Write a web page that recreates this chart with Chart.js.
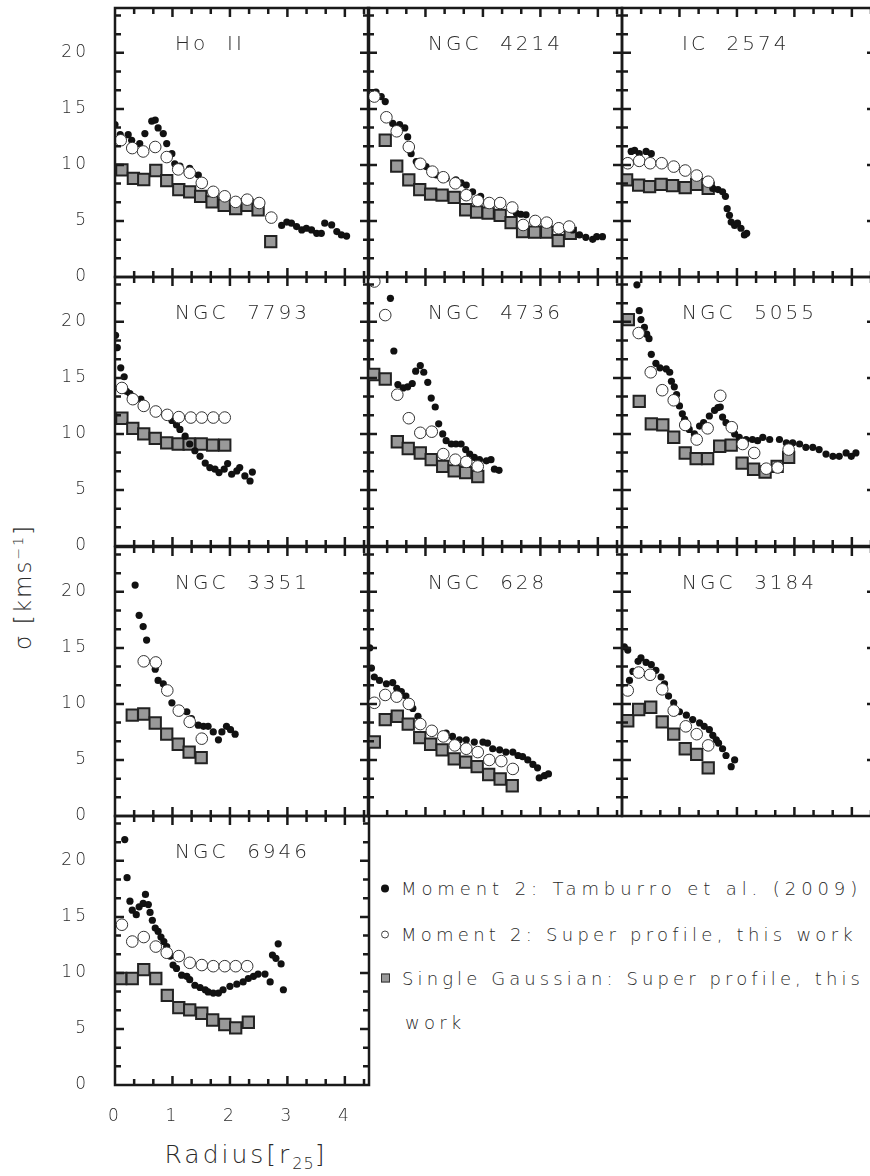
<!DOCTYPE html>
<html>
<head>
<meta charset="utf-8">
<script src="https://cdn.jsdelivr.net/npm/chart.js@4.4.1/dist/chart.umd.min.js"></script>
<style>
  html, body { margin: 0; padding: 0; background: #fff; }
  body { width: 870px; height: 1176px; overflow: hidden; position: relative;
         font-family: 'DejaVu Sans', sans-serif; font-weight: 200; color: #2a2a2a; }
  canvas.panel { position: absolute; }
  .txt { position: absolute; white-space: nowrap; }
  #ytitle { left: 23px; top: 587px; font-size: 23px; letter-spacing: 2px;
            transform: translate(-50%, -50%) rotate(-90deg); }
  #ytitle sup { font-size: 14px; }
  #xtitle { left: 246px; top: 1156px; font-size: 25px; letter-spacing: 3px;
            transform: translate(-50%, -50%); }
  #xtitle sub { font-size: 16px; letter-spacing: 1px; }
  .leg { position: absolute; left: 381px; font-size: 18px; letter-spacing: 4.9px;
         white-space: nowrap; transform: translateY(-50%); }
  .mk { display: inline-block; box-sizing: border-box; margin-right: 12px; vertical-align: 2px; letter-spacing: 0; }
  .mk.dot { width: 8px; height: 8px; border-radius: 50%; background: #111; }
  .mk.open { width: 8px; height: 8px; border-radius: 50%; border: 1px solid #444; background: #fff; }
  .mk.sq { width: 9px; height: 9px; border: 1px solid #333; background: #999; }
</style>
</head>
<body>
<div class="txt" id="ytitle">σ [kms<sup>−1</sup>]</div>
<div class="txt" id="xtitle">Radius[r<sub>25</sub>]</div>
<div class="leg" style="top:888px"><span class="mk dot"></span>Moment 2: Tamburro et al. (2009)</div>
<div class="leg" style="top:934px; letter-spacing:4.25px"><span class="mk open"></span>Moment 2: Super profile, this work</div>
<div class="leg" style="top:978px; letter-spacing:4.1px"><span class="mk sq"></span>Single Gaussian: Super profile, this</div>
<div class="leg" style="top:1022px; left:405px; letter-spacing:4.2px">work</div>
<script>
// tick labels
const xMajor = [0, 1, 2, 3, 4];
const yMajor = [0, 5, 10, 15, 20];
const X_MAX = 4.42;
const Y_MAX = 24;

// Ho II
const hoII_tamburro = [[0,13.6],[0.09,12.7],[0.23,12.7],[0.29,12.2],[0.43,11.9],[0.52,12.8],[0.64,13.9],[0.70,14.0],[0.75,13.3],[0.84,12.8],[0.90,11.9],[0.99,11.0],[1.04,10.1],[1.13,9.9],[1.30,9.7],[1.45,9.1],[2.90,4.6],[2.99,4.9],[3.07,4.8],[3.16,4.5],[3.25,4.2],[3.33,4.35],[3.42,4.2],[3.51,3.9],[3.59,3.9],[3.65,4.8],[3.77,4.65],[3.86,4.05],[3.94,3.75],[4.03,3.65]];
const hoII_moment2 = [[0.10,12.2],[0.30,11.5],[0.49,11.2],[0.70,11.6],[0.90,10.7],[1.10,9.6],[1.30,9.3],[1.51,8.4],[1.71,7.6],[1.91,7.2],[2.10,6.7],[2.30,6.9],[2.51,6.6],[2.72,5.3]];
const hoII_gauss = [[0.12,9.55],[0.32,8.8],[0.50,8.7],[0.71,9.5],[0.90,8.6],[1.11,7.8],[1.30,7.6],[1.49,7.2],[1.69,6.7],[1.90,6.4],[2.10,6.1],[2.30,6.4],[2.49,6.0],[2.71,3.15]];

// NGC 4214
const n4214_tamburro = [[0.03,16.1],[0.14,16.5],[0.23,16.1],[0.30,15.65],[0.43,13.7],[0.55,13.6],[0.64,13.3],[0.69,12.5],[0.75,11.0],[0.84,10.3],[0.92,10.15],[1.01,9.85],[1.19,9.1],[1.36,8.8],[1.53,8.66],[1.62,8.4],[1.71,8.2],[1.82,7.6],[1.96,7.2],[2.58,5.7],[2.66,5.6],[2.75,5.55],[3.56,4.2],[3.68,3.75],[3.79,3.54],[3.91,3.36],[3.98,3.6],[4.08,3.6]];
const n4214_moment2 = [[0.11,16.1],[0.32,14.25],[0.50,13.0],[0.71,11.6],[0.91,10.1],[1.12,9.4],[1.31,8.9],[1.52,8.36],[1.71,7.3],[1.91,6.8],[2.11,6.6],[2.30,6.6],[2.51,6.2],[2.70,4.64],[2.91,5.0],[3.11,4.85],[3.32,4.35],[3.50,4.5]];
const n4214_gauss = [[0.30,12.2],[0.50,9.9],[0.71,8.66],[0.90,7.8],[1.09,7.4],[1.29,7.3],[1.50,7.1],[1.70,6.0],[1.89,5.8],[2.09,5.7],[2.30,5.5],[2.49,4.85],[2.69,4.05],[2.90,4.0],[3.11,4.0],[3.31,3.24],[3.52,3.9]];

// IC 2574
const ic2574_tamburro = [[0.16,11.2],[0.22,11.3],[0.30,11.0],[0.42,11.2],[0.51,11.0],[1.58,7.9],[1.67,7.8],[1.75,7.6],[1.80,7.2],[1.83,6.1],[1.87,5.5],[1.90,4.9],[1.96,4.6],[2.01,4.8],[2.07,4.35],[2.13,3.75],[2.17,3.9]];
const ic2574_moment2 = [[0.10,10.15],[0.30,10.36],[0.49,10.15],[0.69,10.15],[0.90,9.85],[1.10,9.5],[1.30,9.05],[1.50,8.5]];
const ic2574_gauss = [[0.08,8.66],[0.29,8.2],[0.48,8.07],[0.68,8.27],[0.88,8.15],[1.10,7.98],[1.30,8.27],[1.50,7.92]];

// NGC 7793
const n7793_tamburro = [[0.01,18.8],[0.04,17.7],[0.10,15.9],[0.16,15.1],[0.20,13.8],[0.26,13.6],[0.45,13.1],[0.99,11.2],[1.07,10.8],[1.13,10.4],[1.22,9.8],[1.30,9.1],[1.39,8.5],[1.48,8.0],[1.57,7.4],[1.65,7.0],[1.74,6.85],[1.81,6.55],[1.90,6.85],[1.96,7.35],[2.03,6.4],[2.12,6.7],[2.17,7.0],[2.26,6.25],[2.35,5.8],[2.39,6.6]];
const n7793_moment2 = [[0.12,14.1],[0.31,13.1],[0.50,12.5],[0.71,12.0],[0.91,11.7],[1.11,11.5],[1.32,11.46],[1.51,11.46],[1.71,11.46],[1.91,11.46]];
const n7793_gauss = [[0.12,11.4],[0.31,10.5],[0.50,10.0],[0.70,9.6],[0.90,9.2],[1.10,9.1],[1.29,9.1],[1.50,9.1],[1.70,9.0],[1.91,9.0]];

// NGC 4736
const n4736_tamburro = [[0.39,22.1],[0.45,17.4],[0.52,14.4],[0.61,14.1],[0.69,14.2],[0.77,14.5],[0.83,15.6],[0.91,16.1],[0.97,15.5],[1.04,14.6],[1.10,13.2],[1.17,12.4],[1.23,10.9],[1.30,10.0],[1.36,9.4],[1.45,9.1],[1.53,9.1],[1.62,9.1],[1.70,8.6],[1.77,8.2],[1.85,7.9],[1.94,7.7],[2.06,7.6],[2.14,7.7],[2.20,6.85],[2.28,6.75]];
const n4736_moment2 = [[0.11,23.6],[0.30,20.6],[0.51,13.5],[0.71,11.4],[0.91,10.1],[1.11,10.2],[1.31,8.2],[1.52,7.7],[1.71,7.5],[1.91,7.1]];
const n4736_gauss = [[0.10,15.3],[0.30,14.9],[0.51,9.3],[0.70,8.7],[0.91,8.3],[1.10,7.7],[1.30,7.1],[1.50,6.7],[1.70,6.55],[1.91,6.2]];

// NGC 5055
const n5055_tamburro = [[0.26,23.3],[0.30,21.0],[0.33,20.2],[0.39,19.5],[0.43,18.9],[0.47,18.5],[0.51,17.1],[0.59,16.3],[0.66,15.9],[0.77,15.8],[0.83,15.5],[0.86,14.7],[0.91,14.2],[0.95,13.5],[1.00,12.5],[1.05,11.8],[1.09,11.3],[1.17,10.4],[1.26,10.0],[1.35,10.7],[1.42,11.0],[1.52,11.6],[1.61,12.1],[1.67,12.35],[1.71,12.4],[1.75,11.5],[1.81,11.0],[1.88,10.7],[1.96,10.0],[2.04,9.7],[2.16,9.5],[2.27,9.5],[2.36,9.4],[2.45,9.7],[2.57,9.5],[2.74,9.5],[2.86,9.2],[2.97,9.2],[3.09,9.1],[3.20,8.8],[3.32,8.8],[3.43,8.6],[3.55,8.2],[3.67,8.0],[3.78,8.0],[3.90,8.3],[3.99,8.0],[4.07,8.3]];
const n5055_moment2 = [[0.29,19.0],[0.50,15.5],[0.70,13.9],[0.90,13.0],[1.10,10.8],[1.30,9.5],[1.49,10.5],[1.71,13.4],[1.91,10.6],[2.10,9.1],[2.30,8.3],[2.51,6.9],[2.71,7.0],[2.90,8.6]];
const n5055_gauss = [[0.11,20.2],[0.30,12.9],[0.51,10.9],[0.71,10.8],[0.90,9.7],[1.10,8.3],[1.29,7.8],[1.49,7.8],[1.70,8.9],[1.90,9.0],[2.09,7.4],[2.29,6.85],[2.49,6.6],[2.70,7.1],[2.90,7.9]];

// NGC 3351
const n3351_tamburro = [[0.35,20.6],[0.42,17.9],[0.49,16.9],[0.55,15.7],[0.70,13.1],[0.75,12.1],[0.84,11.8],[0.99,10.1],[1.13,9.5],[1.25,9.3],[1.33,8.7],[1.45,8.1],[1.54,8.0],[1.62,8.0],[1.71,7.5],[1.80,6.8],[1.86,7.5],[1.94,8.0],[2.01,7.7],[2.09,7.3]];
const n3351_moment2 = [[0.50,13.8],[0.71,13.7],[0.91,11.2],[1.11,9.4],[1.30,8.4],[1.51,6.9]];
const n3351_gauss = [[0.30,9.0],[0.50,9.1],[0.70,8.3],[0.90,7.3],[1.10,6.4],[1.29,5.7],[1.50,5.2]];

// NGC 628
const n628_tamburro = [[0.03,15.0],[0.06,13.2],[0.11,12.4],[0.20,12.1],[0.32,11.8],[0.43,11.9],[0.50,11.4],[0.58,11.1],[0.66,10.7],[0.78,9.6],[0.87,8.9],[1.36,7.4],[1.47,7.1],[1.59,6.8],[1.71,6.8],[1.85,6.6],[2.00,6.6],[2.08,6.5],[2.17,6.0],[2.29,5.9],[2.40,5.7],[2.52,5.7],[2.61,5.4],[2.69,5.3],[2.78,5.0],[2.87,4.6],[2.95,4.3],[2.98,3.4],[3.07,3.6],[3.14,3.75]];
const n628_moment2 = [[0.11,10.1],[0.30,10.8],[0.50,10.65],[0.71,10.0],[0.91,8.2],[1.11,7.6],[1.31,7.1],[1.51,6.3],[1.71,6.0],[1.91,5.7],[2.11,5.0],[2.32,4.9],[2.52,4.2]];
const n628_gauss = [[0.11,6.6],[0.30,8.6],[0.51,8.9],[0.70,8.2],[0.90,7.0],[1.09,6.4],[1.29,5.9],[1.50,5.1],[1.70,4.8],[1.90,4.4],[2.10,3.7],[2.30,3.3],[2.51,2.7]];

// NGC 3184
const n3184_tamburro = [[0.04,15.1],[0.10,14.8],[0.13,12.1],[0.19,12.9],[0.28,13.8],[0.33,14.1],[0.42,13.7],[0.51,13.5],[0.59,13.0],[0.68,12.4],[0.74,11.8],[0.81,10.7],[0.90,10.1],[1.00,9.3],[1.12,9.0],[1.23,8.6],[1.35,8.3],[1.43,8.0],[1.52,7.7],[1.58,7.2],[1.64,6.8],[1.68,6.5],[1.75,6.0],[1.81,5.4],[1.90,4.4],[1.96,5.0]];
const n3184_moment2 = [[0.10,11.2],[0.29,12.8],[0.49,12.6],[0.70,11.3],[0.90,9.4],[1.11,8.0],[1.30,7.3],[1.50,6.3]];
const n3184_gauss = [[0.10,8.5],[0.29,9.5],[0.50,9.7],[0.70,8.4],[0.90,7.3],[1.10,6.0],[1.30,5.5],[1.50,4.3]];

// NGC 6946
const n6946_tamburro = [[0.17,21.9],[0.21,18.5],[0.26,16.4],[0.30,15.6],[0.37,15.2],[0.42,15.9],[0.49,16.2],[0.53,17.0],[0.58,16.1],[0.61,15.4],[0.65,14.7],[0.70,14.0],[0.75,13.7],[0.80,13.2],[0.85,12.8],[0.90,12.35],[0.96,11.5],[1.01,10.7],[1.07,10.4],[1.16,9.8],[1.25,9.7],[1.30,9.4],[1.39,8.9],[1.48,8.7],[1.57,8.5],[1.62,8.3],[1.71,8.2],[1.80,8.2],[1.88,8.5],[2.00,8.8],[2.12,9.0],[2.23,9.2],[2.32,9.5],[2.41,9.7],[2.49,9.9],[2.61,9.9],[2.70,9.2],[2.74,11.6],[2.80,11.3],[2.84,12.6],[2.89,10.8],[2.93,8.5]];
const n6946_moment2 = [[0.12,14.3],[0.30,12.8],[0.50,13.2],[0.71,12.35],[0.90,11.8],[1.11,11.5],[1.30,10.9],[1.51,10.7],[1.71,10.6],[1.91,10.6],[2.10,10.6],[2.30,10.6]];
const n6946_gauss = [[0.10,9.5],[0.30,9.5],[0.50,10.3],[0.71,9.5],[0.91,8.0],[1.11,6.9],[1.30,6.7],[1.51,6.4],[1.70,5.8],[1.91,5.4],[2.10,5.1],[2.32,5.6]];

const panels = [
  { title: 'Ho  II',    col: 0, row: 0, dots: hoII_tamburro,  open: hoII_moment2,  sq: hoII_gauss },
  { title: 'NGC  4214', col: 1, row: 0, dots: n4214_tamburro, open: n4214_moment2, sq: n4214_gauss },
  { title: 'IC  2574',  col: 2, row: 0, dots: ic2574_tamburro, open: ic2574_moment2, sq: ic2574_gauss },
  { title: 'NGC  7793', col: 0, row: 1, dots: n7793_tamburro, open: n7793_moment2, sq: n7793_gauss },
  { title: 'NGC  4736', col: 1, row: 1, dots: n4736_tamburro, open: n4736_moment2, sq: n4736_gauss },
  { title: 'NGC  5055', col: 2, row: 1, dots: n5055_tamburro, open: n5055_moment2, sq: n5055_gauss },
  { title: 'NGC  3351', col: 0, row: 2, dots: n3351_tamburro, open: n3351_moment2, sq: n3351_gauss },
  { title: 'NGC  628',  col: 1, row: 2, dots: n628_tamburro,  open: n628_moment2,  sq: n628_gauss },
  { title: 'NGC  3184', col: 2, row: 2, dots: n3184_tamburro, open: n3184_moment2, sq: n3184_gauss },
  { title: 'NGC  6946', col: 0, row: 3, dots: n6946_tamburro, open: n6946_moment2, sq: n6946_gauss, xLabels: true }
];

const colLeft = [115, 368, 622];
const rowTop = [8, 277, 547, 816];
const PW = 254, PH = 269, M = 10, XAXIS_H = 50;
const ink = '#1a1a1a';
const FONT = '"DejaVu Sans", sans-serif';

// border, inward ticks on four sides, and the galaxy name
const framePlugin = {
  id: 'frame',
  beforeDraw(chart) {
    chart.ctx.letterSpacing = '3px';
  },
  afterDraw(chart, args, opts) {
    const ctx = chart.ctx;
    const a = chart.chartArea;
    const xs = chart.scales.x, ys = chart.scales.y;
    ctx.save();
    ctx.strokeStyle = ink;
    ctx.lineWidth = 2.5;
    ctx.beginPath();
    for (let k = 1; k / 3 < X_MAX; k++) {
      const px = xs.getPixelForValue(k / 3);
      const len = k % 3 === 0 ? 9 : 6;
      ctx.moveTo(px, a.bottom); ctx.lineTo(px, a.bottom - len);
      ctx.moveTo(px, a.top); ctx.lineTo(px, a.top + len);
    }
    for (let k = 1; k * 5 / 3 < Y_MAX; k++) {
      const py = ys.getPixelForValue(k * 5 / 3);
      const len = k % 3 === 0 ? 9 : 6;
      ctx.moveTo(a.left, py); ctx.lineTo(a.left + len, py);
      ctx.moveTo(a.right, py); ctx.lineTo(a.right - len, py);
    }
    ctx.stroke();
    ctx.strokeRect(a.left, a.top, a.right - a.left, a.bottom - a.top);

    ctx.letterSpacing = '3px';
    ctx.font = '200 20px ' + FONT;
    ctx.fillStyle = '#2a2a2a';
    ctx.textBaseline = 'middle';
    ctx.textAlign = 'left';
    ctx.fillText(opts.title, a.left + 60, a.top + 37);
    ctx.restore();
  }
};

const toXY = (pts) => pts.map(p => ({ x: p[0], y: p[1] }));

panels.forEach(p => {
  const leftCol = p.col === 0;
  const cvLeft = leftCol ? 0 : colLeft[p.col] - M;
  const cvTop = rowTop[p.row] - M;
  const w = leftCol ? colLeft[0] + PW + M : PW + 2 * M;
  const h = PH + M + (p.xLabels ? XAXIS_H : M);

  const cv = document.createElement('canvas');
  cv.className = 'panel';
  cv.width = w; cv.height = h;
  cv.style.left = cvLeft + 'px';
  cv.style.top = cvTop + 'px';
  cv.style.width = w + 'px';
  cv.style.height = h + 'px';
  document.body.appendChild(cv);

  new Chart(cv.getContext('2d'), {
    type: 'scatter',
    data: {
      datasets: [
        {
          label: 'Moment 2: Super profile, this work',
          data: toXY(p.open),
          pointStyle: 'circle',
          pointRadius: 5.8,
          pointBackgroundColor: '#fff',
          pointBorderColor: '#333',
          pointBorderWidth: 1
        },
        {
          label: 'Moment 2: Tamburro et al. (2009)',
          data: toXY(p.dots),
          pointStyle: 'circle',
          pointRadius: 3.6,
          pointBackgroundColor: '#111',
          pointBorderColor: '#111',
          pointBorderWidth: 0
        },
        {
          label: 'Single Gaussian: Super profile, this work',
          data: toXY(p.sq),
          pointStyle: 'rect',
          pointRadius: 8,
          pointBackgroundColor: '#999',
          pointBorderColor: '#222',
          pointBorderWidth: 2
        }
      ]
    },
    options: {
      responsive: false,
      animation: false,
      devicePixelRatio: 1,
      events: [],
      layout: {
        padding: { left: leftCol ? 0 : M, right: M, top: M, bottom: p.xLabels ? 0 : M }
      },
      plugins: {
        legend: { display: false },
        tooltip: { enabled: false },
        frame: { title: p.title }
      },
      scales: {
        x: {
          type: 'linear',
          min: 0, max: X_MAX,
          display: !!p.xLabels,
          grid: { display: false },
          border: { display: false },
          ticks: { color: '#2a2a2a', padding: 13, maxRotation: 0, autoSkip: false,
                   font: { family: FONT, size: 17, weight: 200 } },
          afterBuildTicks: s => { s.ticks = xMajor.map(v => ({ value: v })); },
          afterFit: s => {
            s.height = s.options.display ? XAXIS_H : 0;
            s.paddingLeft = 0; s.paddingRight = 0;
          }
        },
        y: {
          type: 'linear',
          min: 0, max: Y_MAX,
          display: leftCol,
          grid: { display: false },
          border: { display: false },
          ticks: { color: '#2a2a2a', padding: 18, autoSkip: false,
                   font: { family: FONT, size: 17, weight: 200 } },
          afterBuildTicks: s => { s.ticks = yMajor.map(v => ({ value: v })); },
          afterFit: s => {
            s.width = s.options.display ? colLeft[0] : 0;
            s.paddingTop = 0; s.paddingBottom = 0;
          }
        }
      }
    },
    plugins: [framePlugin]
  });
});
</script>
</body>
</html>
